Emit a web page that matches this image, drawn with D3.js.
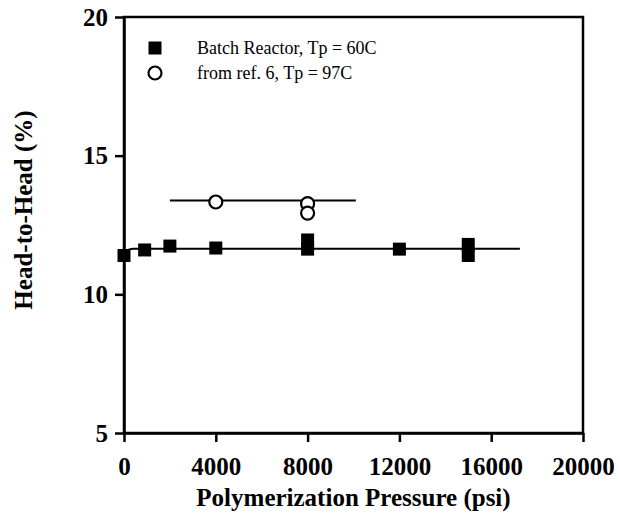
<!DOCTYPE html>
<html>
<head>
<meta charset="utf-8">
<script src="https://cdn.jsdelivr.net/npm/d3@7"></script>
<style>
  body { margin: 0; background: #fff; }
  svg { display: block; }
  .axis path, .axis line { stroke: #000; stroke-width: 2.5; }
</style>
</head>
<body>
<div id="chart"></div>
<script>
// pressure (psi) / head-to-head (%)
const batchPressure = [0, 900, 2000, 4000, 8000, 8000, 12000, 15000, 15000]
const batchHH = [11.4, 11.6, 11.74, 11.67, 11.96, 11.63, 11.63, 11.8, 11.4]

const refPressure = [4000, 8000, 8000]
const refHH = [13.33, 13.27, 12.93]

// fitted lines
const batchFitPressure = [0, 400, 17250]
const batchFitHH = [11.55, 11.64, 11.64]
const refFitPressure = [2000, 10100]
const refFitHH = [13.38, 13.38]

const xTicks = [0, 4000, 8000, 12000, 16000, 20000]
const yTicks = [5, 10, 15, 20]

const legendLabels = ["Batch Reactor, Tp = 60C", "from ref. 6, Tp = 97C"]

const width = 620
const height = 517
const margin = { left: 124, right: 37, top: 17, bottom: 84 }
const serif = '"Liberation Serif", "Times New Roman", serif'

const svg = d3.select('#chart').append('svg').attr('width', width).attr('height', height)

const xScale = d3.scaleLinear().domain([0, 20000]).range([margin.left, width - margin.right])
const yScale = d3.scaleLinear().domain([5, 20]).range([height - margin.bottom, margin.top])

// frame
svg.append('rect')
    .attr('x', xScale(0))
    .attr('y', yScale(20))
    .attr('width', xScale(20000) - xScale(0))
    .attr('height', yScale(5) - yScale(20))
    .attr('fill', 'none')
    .attr('stroke', 'black')
    .attr('stroke-width', 2.5)

const xAxis = d3.axisBottom(xScale).tickValues(xTicks).tickFormat(d3.format('d')).tickSize(9).tickSizeOuter(0).tickPadding(15)
const yAxis = d3.axisLeft(yScale).tickValues(yTicks).tickSize(9).tickSizeOuter(0).tickPadding(7)

svg.append('g')
    .attr('class', 'axis x-axis')
    .attr('transform', 'translate(0,' + yScale(5) + ')')
    .call(xAxis)
svg.append('g')
    .attr('class', 'axis y-axis')
    .attr('transform', 'translate(' + xScale(0) + ',0)')
    .call(yAxis)

svg.selectAll('.axis text')
    .style('font-family', serif)
    .style('font-weight', 'bold')
    .style('font-size', '25px')
    .style('fill', '#000')
svg.selectAll('.y-axis .tick text').attr('dy', '0.33em')

// axis titles
svg.append('text')
    .attr('x', (xScale(0) + xScale(20000)) / 2)
    .attr('y', 506)
    .attr('text-anchor', 'middle')
    .style('font-family', serif)
    .style('font-weight', 'bold')
    .style('font-size', '25px')
    .text('Polymerization Pressure (psi)')

svg.append('text')
    .attr('transform', 'translate(32,210) rotate(-90)')
    .attr('text-anchor', 'middle')
    .style('font-family', serif)
    .style('font-weight', 'bold')
    .style('font-size', '25px')
    .text('Head-to-Head (%)')

// fit lines
const line = d3.line()
    .x(function(d) { return xScale(d[0]) })
    .y(function(d) { return yScale(d[1]) })
    .curve(d3.curveMonotoneX)

svg.append('path')
    .datum(d3.zip(batchFitPressure, batchFitHH))
    .attr('d', line)
    .attr('fill', 'none')
    .attr('stroke', 'black')
    .attr('stroke-width', 2)

svg.append('path')
    .datum(d3.zip(refFitPressure, refFitHH))
    .attr('d', line)
    .attr('fill', 'none')
    .attr('stroke', 'black')
    .attr('stroke-width', 2)

// points
const sq = 13
svg.selectAll('rect.batch').data(d3.zip(batchPressure, batchHH))
    .enter()
    .append('rect')
    .attr('class', 'batch')
    .attr('x', function(d) { return xScale(d[0]) - sq / 2 })
    .attr('y', function(d) { return yScale(d[1]) - sq / 2 })
    .attr('width', sq)
    .attr('height', sq)
    .attr('fill', 'black')

svg.selectAll('circle.ref').data(d3.zip(refPressure, refHH))
    .enter()
    .append('circle')
    .attr('class', 'ref')
    .attr('cx', function(d) { return xScale(d[0]) })
    .attr('cy', function(d) { return yScale(d[1]) })
    .attr('r', 6.5)
    .attr('fill', 'white')
    .attr('stroke', 'black')
    .attr('stroke-width', 2.2)

// legend
const legend = svg.append('g').attr('transform', 'translate(155,48)')
legend.append('rect')
    .attr('x', -sq / 2).attr('y', -sq / 2)
    .attr('width', sq).attr('height', sq)
    .attr('fill', 'black')
legend.append('circle')
    .attr('cx', 0).attr('cy', 25)
    .attr('r', 6.5)
    .attr('fill', 'white')
    .attr('stroke', 'black')
    .attr('stroke-width', 2.2)
legend.selectAll('text').data(legendLabels)
    .enter()
    .append('text')
    .attr('x', 42)
    .attr('y', function(d, i) { return i * 25 + 6 })
    .style('font-family', serif)
    .style('font-size', '18px')
    .text(function(d) { return d })
</script>
</body>
</html>
